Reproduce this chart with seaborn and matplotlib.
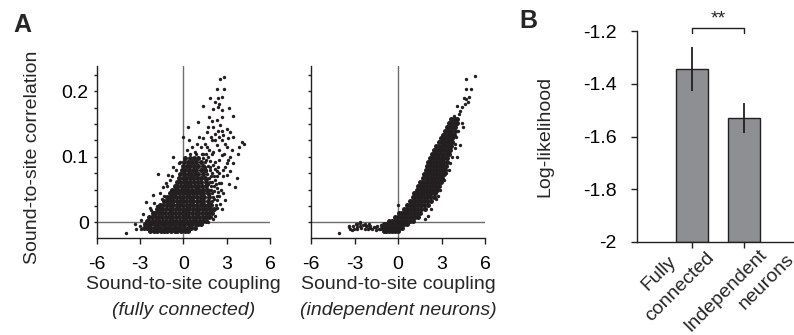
import matplotlib
matplotlib.use("Agg")
import matplotlib.pyplot as plt
import seaborn as sns
from matplotlib import transforms

sns.set_theme(style="ticks")
plt.rcParams['font.family'] = ['Liberation Sans', 'DejaVu Sans']
plt.rcParams['axes.linewidth'] = 1.0

INK = '#231f20'
REF = '#6d6e71'
BAR = '#8e8f92'

# ---------------- data: panel A, fully connected ----------------
# dense core, rows of (correlation, [couplings])
fc_core = [
    (-0.013, [-2.3, -2.0, -1.8, -1.55, -1.3, -1.1, -0.85, -0.6, -0.4, -0.15, 0.1, 0.3]),
    (-0.008, [-2.7, -2.5, -2.3, -2.05, -1.8, -1.6, -1.35, -1.1, -0.9, -0.65, -0.4, -0.2, 0.05, 0.3, 0.55, 0.8]),
    (-0.003, [-2.65, -2.45, -2.2, -1.95, -1.75, -1.5, -1.25, -1.0, -0.8, -0.55, -0.3, -0.1, 0.15, 0.4, 0.6, 0.85, 1.05, 1.25]),
    (0.002, [-2.5, -2.35, -2.1, -1.9, -1.65, -1.4, -1.2, -0.95, -0.7, -0.5, -0.25, 0.0, 0.2, 0.45, 0.7, 0.9, 1.15, 1.35, 1.55]),
    (0.008, [-2.35, -2.15, -1.9, -1.7, -1.45, -1.2, -1.0, -0.75, -0.5, -0.3, -0.05, 0.2, 0.4, 0.65, 0.9, 1.1, 1.35, 1.6, 1.8]),
    (0.014, [-2.1, -1.95, -1.7, -1.5, -1.25, -1.0, -0.8, -0.55, -0.3, -0.1, 0.15, 0.35, 0.6, 0.85, 1.05, 1.3, 1.55, 1.8, 2.0]),
    (0.020, [-1.8, -1.65, -1.45, -1.2, -0.95, -0.75, -0.5, -0.3, -0.05, 0.2, 0.4, 0.65, 0.9, 1.1, 1.35, 1.6, 1.85, 2.1]),
    (0.026, [-1.6, -1.4, -1.15, -0.9, -0.7, -0.45, -0.2, 0.0, 0.25, 0.5, 0.7, 0.95, 1.2, 1.45, 1.7, 1.95]),
    (0.032, [-1.35, -1.15, -0.95, -0.7, -0.45, -0.25, 0.0, 0.2, 0.45, 0.7, 0.95, 1.15, 1.4, 1.7]),
    (0.038, [-1.15, -0.95, -0.7, -0.5, -0.25, 0.0, 0.25, 0.45, 0.7, 0.95, 1.2, 1.45, 1.75]),
    (0.044, [-0.95, -0.75, -0.55, -0.3, -0.05, 0.2, 0.4, 0.65, 0.9, 1.15, 1.4, 1.7]),
    (0.050, [-0.8, -0.6, -0.35, -0.1, 0.15, 0.35, 0.6, 0.85, 1.1, 1.35, 1.65]),
    (0.056, [-0.6, -0.4, -0.15, 0.1, 0.3, 0.55, 0.8, 1.05, 1.3, 1.6]),
    (0.062, [-0.45, -0.2, 0.05, 0.25, 0.5, 0.75, 1.0, 1.25, 1.55]),
    (0.068, [-0.3, -0.05, 0.2, 0.45, 0.7, 0.95, 1.2, 1.5]),
    (0.074, [-0.2, 0.05, 0.3, 0.55, 0.8, 1.05, 1.35]),
    (0.080, [-0.1, 0.15, 0.4, 0.65, 0.9, 1.2, 1.5]),
    (0.086, [0.0, 0.25, 0.5, 0.75, 1.05, 1.35]),
    (0.092, [0.05, 0.3, 0.6, 0.9, 1.2]),
    (0.098, [0.15, 0.45, 0.75, 1.05]),
]
# medium-density region and scattered points (coupling, correlation)
fc_sparse = [
    (2.25, 0.026), (2.0, 0.032), (2.3, 0.034), (2.05, 0.038), (2.35, 0.04), (2.0, 0.044),
    (2.4, 0.046), (1.95, 0.05), (2.3, 0.052), (1.9, 0.056), (2.25, 0.058), (1.85, 0.062),
    (2.2, 0.064), (1.8, 0.068), (2.15, 0.07), (1.65, 0.074), (2.0, 0.076), (2.3, 0.078),
    (1.85, 0.08), (2.2, 0.082), (1.7, 0.086), (2.05, 0.088), (1.5, 0.092), (1.85, 0.094),
    (1.35, 0.098), (1.7, 0.1), (0.5, 0.104), (0.9, 0.104), (1.3, 0.104), (1.6, 0.105), (2.0, 0.104),
    (1.75, 0.03), (1.95, 0.028), (2.15, 0.035), (1.8, 0.042), (2.15, 0.048), (1.75, 0.05),
    (2.1, 0.055), (1.7, 0.058), (2.0, 0.062), (1.65, 0.066), (1.95, 0.07), (2.3, 0.07),
    (1.6, 0.078), (1.85, 0.085), (1.5, 0.085), (1.6, 0.095), (2.2, 0.092), (2.4, 0.085),
    (2.45, 0.06), (2.5, 0.075), (2.1, 0.02), (2.35, 0.022), (1.9, 0.014), (2.05, 0.005),
    (1.7, 0.0), (1.9, 0.008), (-2.0, 0.03), (-1.6, 0.045), (-1.1, 0.055), (-0.8, 0.07),
    (-0.5, 0.08), (-0.3, 0.09), (-1.3, 0.04), (-2.2, 0.018), (-3.0, -0.005), (-2.9, -0.01),
    (2.82, 0.222), (2.55, 0.218), (2.36, 0.203), (2.82, 0.203), (1.85, 0.189), (2.43, 0.189),
    (2.66, 0.191), (2.2, 0.183), (2.5, 0.181), (1.34, 0.177), (2.08, 0.173), (2.43, 0.176),
    (2.66, 0.171), (3.19, 0.175), (3.47, 0.163), (2.66, 0.161), (2.31, 0.156), (1.04, 0.153),
    (0.35, 0.146), (2.08, 0.146), (2.55, 0.148), (3.0, 0.143), (1.62, 0.138), (2.2, 0.135),
    (2.78, 0.133), (3.24, 0.138), (1.39, 0.128), (1.97, 0.125), (2.66, 0.125), (3.12, 0.128),
    (3.47, 0.13), (4.05, 0.123), (4.17, 0.12), (3.89, 0.115), (3.82, 0.105), (0.93, 0.12),
    (1.62, 0.115), (2.31, 0.118), (3.0, 0.115), (3.36, 0.11), (0.0, 0.13), (0.23, 0.11),
    (0.81, 0.107), (1.39, 0.105), (2.08, 0.107), (2.66, 0.102), (3.24, 0.1), (3.47, 0.09),
    (3.24, 0.079), (3.0, 0.072), (3.7, 0.067), (3.59, 0.054), (3.13, 0.059), (2.78, 0.044),
    (2.89, 0.034), (2.55, 0.028), (-1.74, 0.074), (-1.04, 0.072), (-0.69, 0.084), (-1.39, 0.054),
    (-2.55, 0.031), (-2.78, 0.013), (-3.36, -0.002), (-3.94, -0.017), (-3.24, -0.01), (-2.89, 0.003),
    (-2.08, 0.041), (-0.69, 0.1), (-0.23, 0.092), (1.8, 0.16), (2.0, 0.155), (1.7, 0.145),
    (2.4, 0.14), (1.5, 0.12), (1.9, 0.13), (2.5, 0.13), (2.7, 0.14), (2.9, 0.12), (2.2, 0.125),
    (1.2, 0.115), (1.75, 0.11), (2.45, 0.11), (2.85, 0.105), (3.0, 0.09), (2.75, 0.08),
    (2.6, 0.06), (2.75, 0.07), (2.9, 0.085), (2.5, 0.095), (3.1, 0.095), (-1.5, 0.035),
    (-1.2, 0.06), (-0.9, 0.065), (-1.85, 0.025), (-2.3, 0.022), (0.6, 0.115), (0.4, 0.125),
    (1.1, 0.13), (2.6, 0.05), (2.5, 0.04), (2.7, 0.02), (2.2, 0.01),
]

# ---------------- data: panel A, independent neurons ----------------
ind_core = [
    (-0.013, [-1.0, -0.8, -0.6, -0.4, -0.2, 0.0]),
    (-0.008, [-1.1, -0.9, -0.7, -0.5, -0.3, -0.1, 0.1, 0.3]),
    (-0.003, [-1.0, -0.8, -0.6, -0.4, -0.2, 0.0, 0.2, 0.4, 0.6]),
    (0.002, [-0.6, -0.4, -0.2, 0.0, 0.2, 0.4, 0.6, 0.8, 1.0]),
    (0.008, [-0.2, 0.0, 0.2, 0.4, 0.6, 0.8, 1.0, 1.2, 1.35]),
    (0.014, [0.1, 0.3, 0.5, 0.7, 0.9, 1.1, 1.3, 1.55]),
    (0.020, [0.4, 0.6, 0.8, 1.0, 1.2, 1.4, 1.6, 1.85]),
    (0.026, [0.6, 0.8, 1.0, 1.2, 1.4, 1.6, 1.8, 2.05]),
    (0.032, [0.8, 1.0, 1.2, 1.4, 1.6, 1.8, 2.0, 2.25]),
    (0.038, [1.0, 1.2, 1.4, 1.6, 1.8, 2.0, 2.2, 2.45]),
    (0.044, [1.1, 1.3, 1.5, 1.7, 1.9, 2.1, 2.3, 2.55]),
    (0.050, [1.3, 1.5, 1.7, 1.9, 2.1, 2.3, 2.5, 2.7]),
    (0.056, [1.4, 1.6, 1.8, 2.0, 2.2, 2.4, 2.6, 2.85]),
    (0.062, [1.55, 1.75, 1.95, 2.15, 2.35, 2.55, 2.75, 2.95]),
    (0.068, [1.7, 1.9, 2.1, 2.3, 2.5, 2.7, 2.9, 3.05]),
    (0.074, [1.8, 2.0, 2.2, 2.4, 2.6, 2.8, 3.0, 3.15]),
    (0.080, [1.9, 2.1, 2.3, 2.5, 2.7, 2.9, 3.1, 3.25]),
    (0.086, [2.0, 2.2, 2.4, 2.6, 2.8, 3.0, 3.2, 3.3]),
    (0.092, [2.1, 2.3, 2.5, 2.7, 2.9, 3.1, 3.35]),
    (0.098, [2.2, 2.4, 2.6, 2.8, 3.0, 3.2, 3.4]),
    (0.104, [2.35, 2.55, 2.75, 2.95, 3.15, 3.35, 3.5]),
    (0.110, [2.5, 2.7, 2.9, 3.1, 3.3, 3.5, 3.6]),
    (0.116, [2.65, 2.85, 3.05, 3.25, 3.45, 3.65]),
    (0.122, [2.8, 3.0, 3.2, 3.4, 3.6, 3.7]),
    (0.128, [2.95, 3.15, 3.35, 3.55, 3.75]),
    (0.134, [3.1, 3.3, 3.5, 3.7, 3.85]),
    (0.140, [3.25, 3.45, 3.65, 3.9]),
    (0.146, [3.4, 3.6, 3.8, 3.95]),
    (0.152, [3.5, 3.7, 3.9, 4.05]),
    (0.158, [3.65, 3.85, 4.1]),
]
ind_sparse = [
    (-3.3, -0.011), (-3.05, -0.01), (-2.8, -0.011), (-2.55, -0.009), (-2.3, -0.011), (-2.05, -0.01),
    (-1.8, -0.011), (-1.55, -0.012), (-1.3, -0.011), (-3.4, -0.006), (-3.1, -0.005), (-2.85, -0.007),
    (-2.6, -0.006), (-2.4, -0.004), (-2.15, -0.006), (-1.9, -0.005), (-1.65, -0.007), (-1.45, -0.006),
    (-2.9, -0.002), (-2.6, -0.001), (-2.3, -0.002), (-2.0, -0.003), (-1.2, -0.004),
    (5.28, 0.223), (4.7, 0.219), (4.7, 0.204), (5.0, 0.204), (4.54, 0.19), (4.72, 0.188),
    (4.89, 0.191), (4.84, 0.184), (4.6, 0.18), (4.43, 0.176), (4.08, 0.177), (4.3, 0.17),
    (3.85, 0.163), (4.2, 0.166), (3.97, 0.158), (4.43, 0.151), (4.5, 0.146), (4.31, 0.118),
    (3.9, 0.113), (4.08, 0.1), (3.7, 0.1), (3.5, 0.08), (3.2, 0.065), (2.9, 0.05), (2.6, 0.035),
    (2.3, 0.02), (2.1, 0.01), (1.85, 0.005), (0.0, 0.026), (-4.08, -0.016), (-3.39, -0.007),
    (-3.16, -0.012), (-2.82, -0.003), (-2.59, 0.0), (-2.24, -0.005), (-1.9, -0.009),
    (-1.55, -0.007), (-1.21, -0.011), (4.15, 0.14), (4.0, 0.13), (3.95, 0.12), (3.6, 0.09),
    (3.4, 0.105), (3.3, 0.075), (2.75, 0.04),
]

# ---------------- data: panel B ----------------
models = ["Fully\nconnected", "Independent\nneurons"]
loglik = [-1.344, -1.529]
loglik_err = [0.082, 0.057]

# ---------------- figure ----------------
W, H = 794, 335
fig = plt.figure(figsize=(W / 100, H / 100), dpi=100)


def px_axes(l, t, r, b):
    return fig.add_axes([l / W, 1 - b / H, (r - l) / W, (b - t) / H])


FS = 14


def scatter_panel(ax, core, sparse, show_ylabels):
    cx = [x for y, xs in core for x in xs]
    cy = [y for y, xs in core for _ in xs]
    ax.axhline(0, color=REF, lw=1.0, zorder=0.5)
    ax.axvline(0, color=REF, lw=1.0, zorder=0.5)
    sns.scatterplot(x=cx, y=cy, s=13, color=INK, linewidth=0, ax=ax, zorder=2)
    sns.scatterplot(x=[p[0] for p in sparse], y=[p[1] for p in sparse], s=6,
                    color=INK, linewidth=0, ax=ax, zorder=2)
    ax.set_xlim(-6, 6)
    ax.set_ylim(-0.024, 0.2386)
    ax.set_xticks([-6, -3, 0, 3, 6])
    ax.set_xticklabels(['-6', '-3', '0', '3', '6'], fontsize=FS)
    ax.set_yticks([0, 0.1, 0.2])
    ax.set_yticks([i * 0.025 for i in range(10)], minor=True)
    if show_ylabels:
        ax.set_yticklabels(['0', '0.1', '0.2'], fontsize=FS)
    else:
        ax.set_yticklabels([])
    ax.tick_params(axis='x', length=4.5, width=1, color=INK, pad=8.5, labelcolor='black')
    ax.tick_params(axis='y', which='both', length=2.5, width=1, color=INK, pad=3, labelcolor='black')
    ax.set_facecolor('none')
    for s in ('left', 'bottom'):
        ax.spines[s].set_color(INK)
    sns.despine(ax=ax)


ax1 = px_axes(96.5, 66, 270, 238)
scatter_panel(ax1, fc_core, fc_sparse, True)
ax2 = px_axes(311, 66, 485, 238)
scatter_panel(ax2, ind_core, ind_sparse, False)

for ax, sub in ((ax1, '(fully connected)'), (ax2, '(independent neurons)')):
    ax.text(0.5, -0.273, 'Sound-to-site coupling', transform=ax.transAxes,
            ha='center', va='center', fontsize=FS)
    ax.text(0.5, -0.424, sub, transform=ax.transAxes, ha='center', va='center',
            fontsize=FS, style='italic')

fig.text(33 / W, 1 - 157 / H, 'Sound-to-site correlation', rotation=90,
         ha='center', va='center', fontsize=FS)
fig.text(22 / W, 1 - 25 / H, 'A', ha='center', va='center', fontsize=18, fontweight='bold')
fig.text(528 / W, 1 - 21 / H, 'B', ha='center', va='center', fontsize=18, fontweight='bold')

# ---------------- panel B ----------------
axb = px_axes(637, 31, 794, 242)
xpos = list(range(len(models)))
axb.bar(xpos, [v + 2 for v in loglik], bottom=-2, width=0.62, color=BAR,
        edgecolor=INK, linewidth=1.0, zorder=2)
axb.errorbar(xpos, loglik, yerr=loglik_err, fmt='none', ecolor=INK,
             elinewidth=1.3, capsize=0, zorder=3)
axb.set_ylim(-2, -1.2)
axb.set_xlim(-1.058, 1.96)
axb.set_yticks([-2, -1.8, -1.6, -1.4, -1.2])
axb.set_yticklabels(['-2', '-1.8', '-1.6', '-1.4', '-1.2'], fontsize=FS)
axb.set_xticks(xpos)
axb.set_xticklabels([])
axb.tick_params(axis='x', length=4.5, width=1, color=INK)
axb.tick_params(axis='y', length=4, width=1, color=INK, pad=10.5, labelcolor='black')
axb.set_facecolor('none')
for s in ('left', 'bottom'):
    axb.spines[s].set_color(INK)
sns.despine(ax=axb)
axb.set_ylabel('Log-likelihood', fontsize=FS)
axb.yaxis.set_label_coords((553 - 637) / 157, 0.5)

# rotated category labels, one text per line (centre of each line's baseline, px from tick)
blend = transforms.blended_transform_factory(axb.transData, axb.transAxes)
line_offsets = [[(-29.5, 34.4), (-9, 48)], [(-15.4, 51.7), (26, 43)]]
for xp, lab, offs in zip(xpos, models, line_offsets):
    for line, (dx, dy) in zip(lab.split('\n'), offs):
        tr = blend + transforms.ScaledTranslation(dx / 100, -dy / 100, fig.dpi_scale_trans)
        axb.text(xp, 0, line, transform=tr, rotation=45, rotation_mode='anchor',
                 ha='center', va='baseline', fontsize=FS, clip_on=False)

# significance bracket
axb.plot([0, 0, 1, 1], [-1.206, -1.189, -1.189, -1.206], color=INK, lw=1.0, clip_on=False)
axb.text(0.5, -1.156, '**', ha='center', va='center', fontsize=FS, clip_on=False)

fig.savefig('out.png', dpi=100)
